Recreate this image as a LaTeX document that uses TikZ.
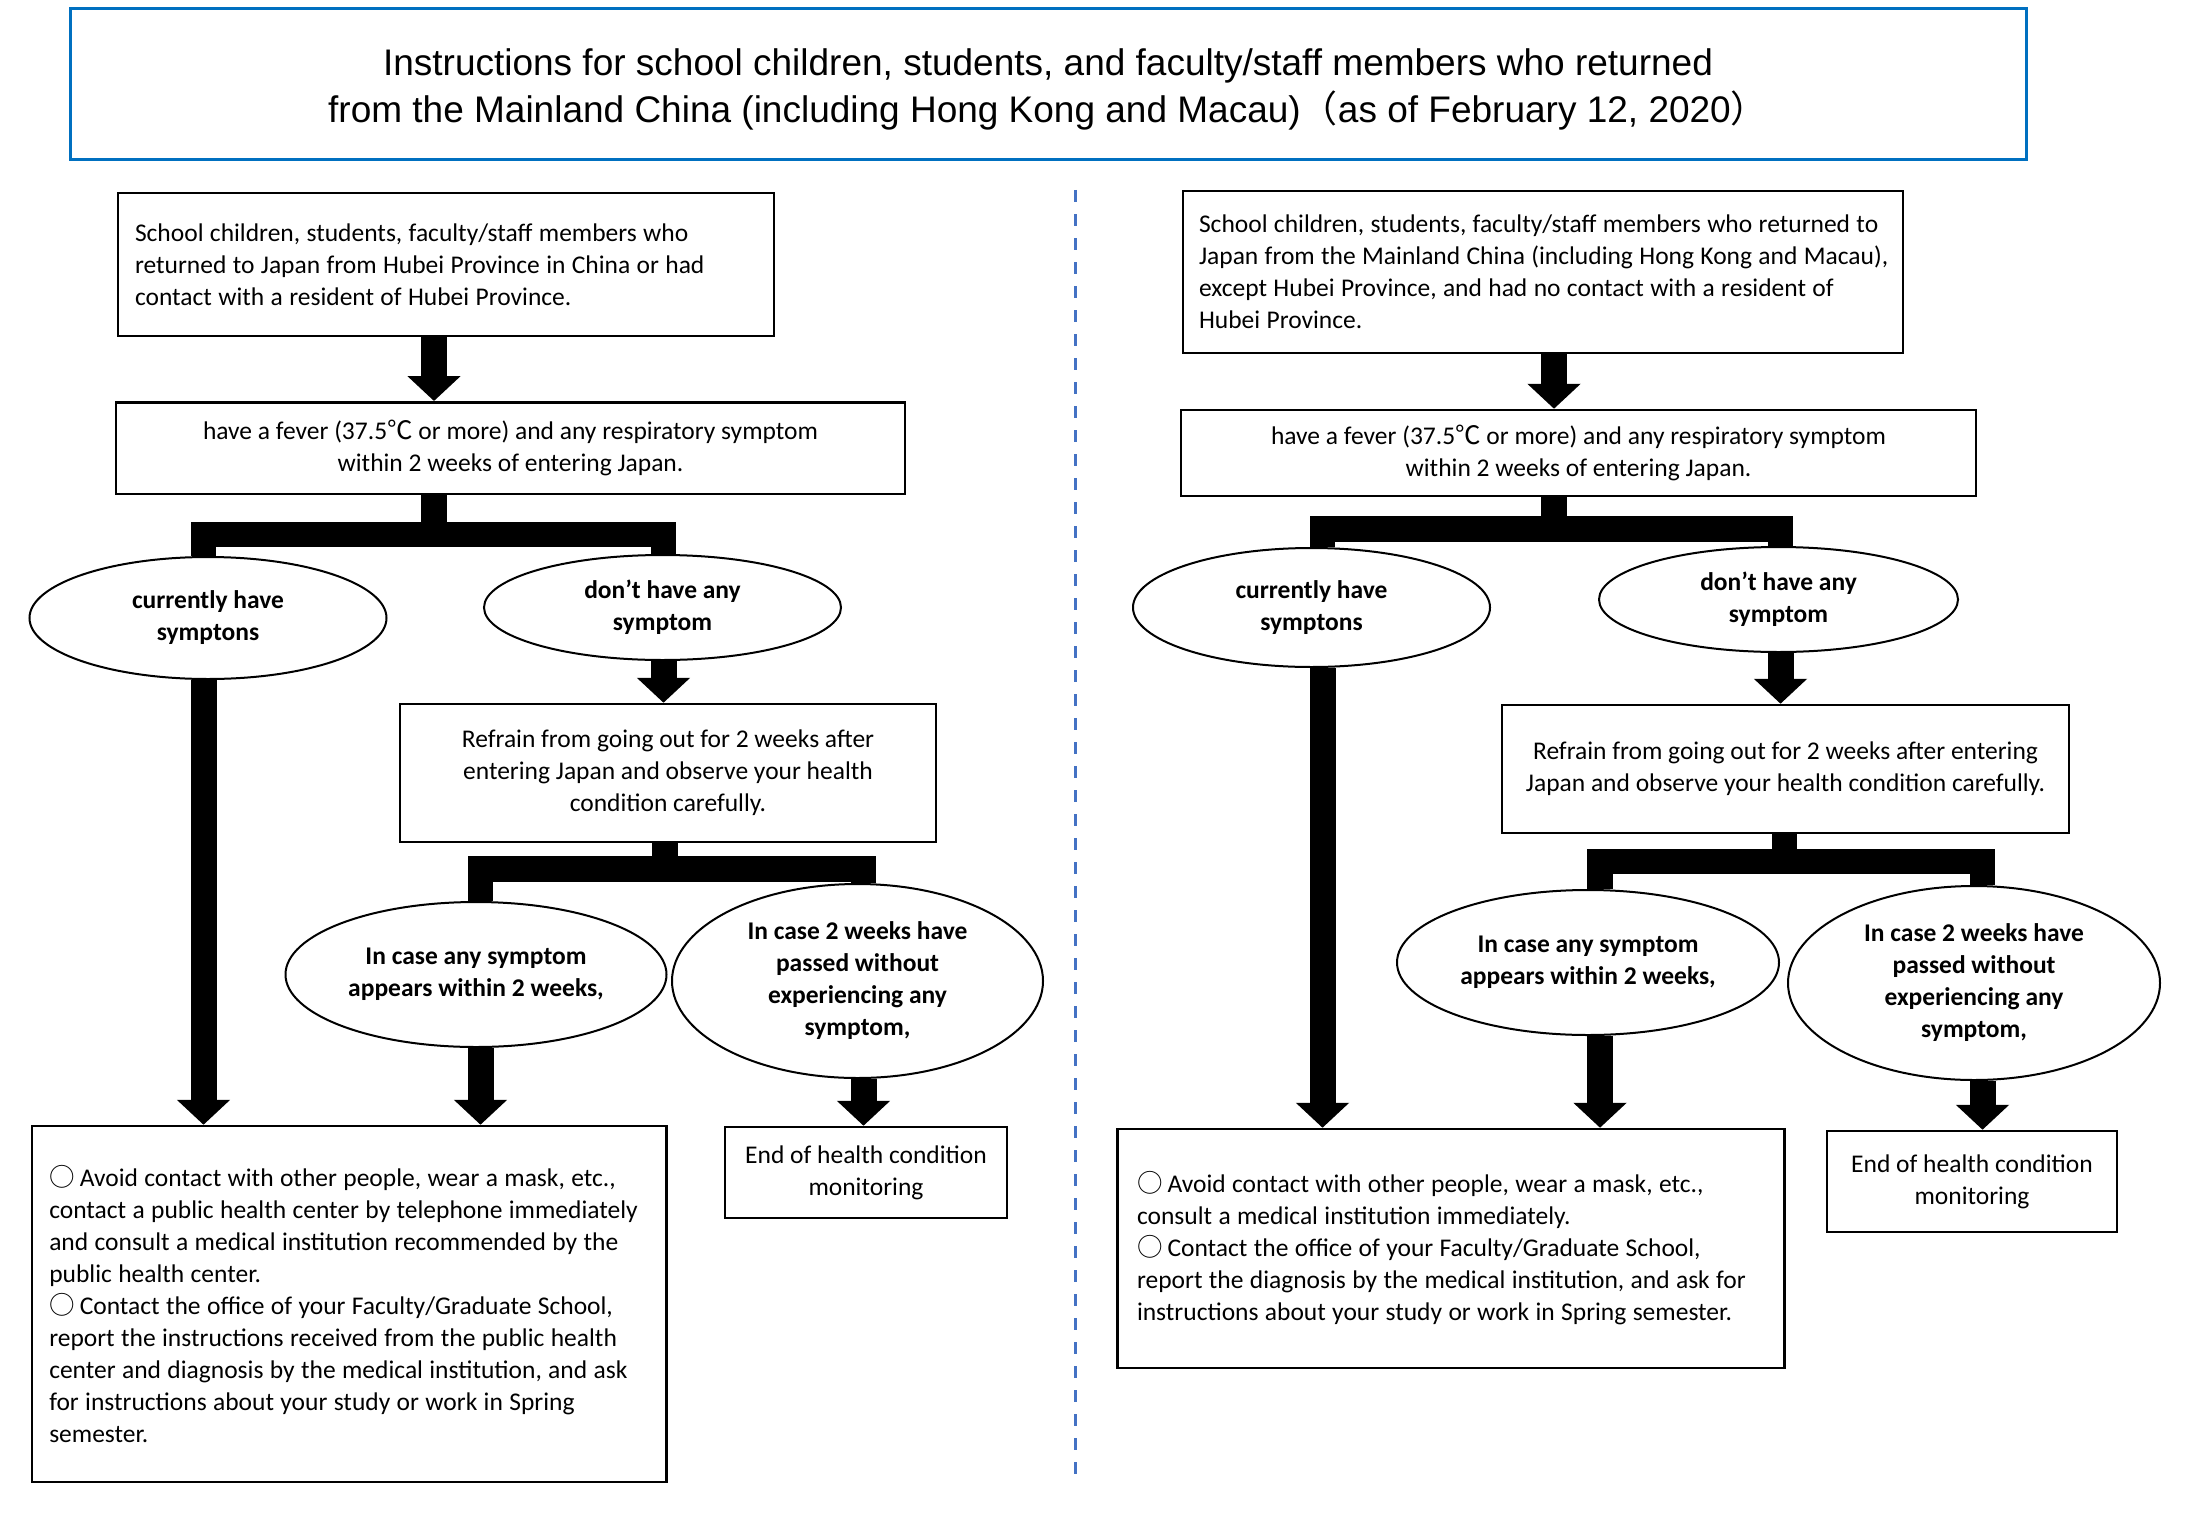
\documentclass[tikz,border=0pt]{standalone}
\usepackage{fontspec}
\setmainfont{Carlito}
\newfontfamily\titlefont{Liberation Sans}
\newfontfamily\cjk{Noto Sans CJK JP}
\usetikzlibrary{arrows.meta,calc,shapes.geometric}
\definecolor{titleblue}{RGB}{0,112,192}
\definecolor{dashblue}{RGB}{68,114,196}
\newcommand{\circmark}{{\cjk ○}\hspace{5pt}}
\newcommand{\degc}{{\cjk ℃}}
\newcommand{\lineof}[1]{\mbox{\spaceskip=0.25em\relax\xspaceskip=0.25em\relax #1}}
\hfuzz=50pt
\begin{document}
\begin{tikzpicture}[x=1pt,y=-1pt,
 every node/.style={inner sep=0pt},
 box/.style={draw=black, line width=2.5pt, fill=white, font=\fontsize{25.5}{32}\selectfont},
 lbox/.style={box, align=left},
 cbox/.style={box, align=center},
 oval/.style={ellipse, draw=black, line width=2pt, fill=white, align=center, font=\fontsize{25.5}{32}\selectfont\bfseries},
 fat/.style={line width=26pt, -{Triangle[width=52pt,length=25pt]}},
 bar/.style={line width=25.5pt},
 titlebox/.style={draw=titleblue, line width=3pt, align=center, font=\titlefont\fontsize{37}{47}\selectfont},
 sep/.style={draw=dashblue, line width=3pt, dash pattern=on 12pt off 12pt}
]
\useasboundingbox (0,0) rectangle (2207,1533);

\node[titlebox, minimum width=1956pt, minimum height=151pt] (T) at (1048,84.5) {};
\node[align=center, font=\titlefont\fontsize{37}{47}\selectfont] (Ttext) at (1048,89)
 {Instructions for school children, students, and faculty/staff members who returned\\
  from the Mainland China (including Hong Kong and Macau){\cjk （}as of February 12, 2020{\cjk ）}};

\coordinate (dtop) at (1075,190);
\coordinate (dbot) at (1075,1478);
\draw[sep] (dtop) -- (dbot);

% ---------- left column ----------
\node[lbox, minimum width=656pt, minimum height=143pt, text width=622pt] (A1) at (446,264.5)
 {\lineof{School children, students, faculty/staff members who}\\
  \lineof{returned to Japan from Hubei Province in China or had}\\
  \lineof{contact with a resident of Hubei Province.}};
\node[cbox, minimum width=789pt, minimum height=91.5pt] (B1) at (510.5,448)
 {have a fever (37.5\degc{} or more) and any respiratory symptom\\
  within 2 weeks of entering Japan.};
\node[oval, minimum width=357pt, minimum height=122pt] (L1) at (208,618) {currently have\\ symptons};
\node[oval, minimum width=357pt, minimum height=105pt] (R1) at (662.5,607.5) {don't have any\\ symptom};
\node[cbox, minimum width=536pt, minimum height=138pt] (C1) at (668,773)
 {Refrain from going out for 2 weeks after\\
  entering Japan and observe your health\\
  condition carefully.};
\node[oval, minimum width=381pt, minimum height=145pt] (L2) at (476,974.5)
 {In case any symptom\\ appears within 2 weeks,};
\node[oval, minimum width=371pt, minimum height=194pt] (R2) at (857.5,981)
 {In case 2 weeks have\\ passed without\\ experiencing any\\ symptom,};
\node[lbox, minimum width=634.5pt, minimum height=356pt, text width=599.5pt] (D1) at (349,1304)
 {\lineof{\circmark Avoid contact with other people, wear a mask, etc.,}\\
  \lineof{contact a public health center by telephone immediately}\\
  \lineof{and consult a medical institution recommended by the}\\
  \lineof{public health center.}\\
  \lineof{\circmark Contact the office of your Faculty/Graduate School,}\\
  \lineof{report the instructions received from the public health}\\
  \lineof{center and diagnosis by the medical institution, and ask}\\
  \lineof{for instructions about your study or work in Spring}\\
  \lineof{semester.}};
\node[cbox, minimum width=282pt, minimum height=91pt] (E1) at (866,1172.5)
 {End of health condition\\ monitoring};

% ---------- right column ----------
\node[lbox, minimum width=720pt, minimum height=162pt, text width=688pt] (A2) at (1543,272)
 {\lineof{School children, students, faculty/staff members who returned to}\\
  \lineof{Japan from the Mainland China (including Hong Kong and Macau),}\\
  \lineof{except Hubei Province, and had no contact with a resident of}\\
  \lineof{Hubei Province.}};
\node[cbox, minimum width=795pt, minimum height=86pt] (B2) at (1578.5,453)
 {have a fever (37.5\degc{} or more) and any respiratory symptom\\
  within 2 weeks of entering Japan.};
\node[oval, minimum width=357pt, minimum height=119pt] (L3) at (1311.5,607.5) {currently have\\ symptons};
\node[oval, minimum width=359pt, minimum height=105pt] (R3) at (1778.5,599.5) {don't have any\\ symptom};
\node[cbox, minimum width=567pt, minimum height=128pt] (C2) at (1785.5,769)
 {Refrain from going out for 2 weeks after entering\\
  Japan and observe your health condition carefully.};
\node[oval, minimum width=382pt, minimum height=145pt] (L4) at (1588,962.5)
 {In case any symptom\\ appears within 2 weeks,};
\node[oval, minimum width=372pt, minimum height=194pt] (R4) at (1974,983)
 {In case 2 weeks have\\ passed without\\ experiencing any\\ symptom,};
\node[lbox, minimum width=667pt, minimum height=239pt, text width=628pt] (D2) at (1451,1248.5)
 {\lineof{\circmark Avoid contact with other people, wear a mask, etc.,}\\
  \lineof{consult a medical institution immediately.}\\
  \lineof{\circmark Contact the office of your Faculty/Graduate School,}\\
  \lineof{report the diagnosis by the medical institution, and ask for}\\
  \lineof{instructions about your study or work in Spring semester.}};
\node[cbox, minimum width=290pt, minimum height=101pt] (E2) at (1972,1181.5)
 {End of health condition\\ monitoring};

% ---------- connectors left ----------
\draw[fat] ($(A1.south)+(-12,0)$) -- ($(B1.north)+(-76.5,0)$);
\coordinate (j1) at (434,534.5);
\draw[bar] ($(B1.south)+(-76.5,0)$) -- (j1);
\draw[bar] ($(L1.north)+(-4.5,0)$) |- (j1) -| ($(R1.north)+(1,0)$);
\coordinate (l1s) at ($(L1.south)+(-4.5,0)$);
\draw[fat] (l1s) -- (l1s |- D1.north);
\coordinate (r1s) at ($(R1.south)+(1,0)$);
\draw[fat] (r1s) -- (r1s |- C1.north);
\coordinate (j2) at (665,869);
\draw[bar] ($(C1.south)+(-3,0)$) -- (j2);
\draw[bar] ($(L2.north)+(4.5,0)$) |- (j2) -| ($(R2.north)+(6,0)$);
\coordinate (l2s) at ($(L2.south)+(4.5,0)$);
\draw[fat] (l2s) -- (l2s |- D1.north);
\coordinate (r2s) at ($(R2.south)+(6,0)$);
\draw[fat] (r2s) -- (r2s |- E1.north);

% ---------- connectors right ----------
\draw[fat] ($(A2.south)+(11,0)$) -- ($(B2.north)+(-24.5,0)$);
\coordinate (j3) at (1554,529);
\draw[bar] ($(B2.south)+(-24.5,0)$) -- (j3);
\draw[bar] ($(L3.north)+(11,0)$) |- (j3) -| ($(R3.north)+(2,0)$);
\coordinate (l3s) at ($(L3.south)+(11,0)$);
\draw[fat] (l3s) -- (l3s |- D2.north);
\coordinate (r3s) at ($(R3.south)+(2,0)$);
\draw[fat] (r3s) -- (r3s |- C2.north);
\coordinate (j4) at (1784.5,861.5);
\draw[bar] ($(C2.south)+(-1,0)$) -- (j4);
\draw[bar] ($(L4.north)+(12,0)$) |- (j4) -| ($(R4.north)+(8.5,0)$);
\coordinate (l4s) at ($(L4.south)+(12,0)$);
\draw[fat] (l4s) -- (l4s |- D2.north);
\coordinate (r4s) at ($(R4.south)+(8.5,0)$);
\draw[fat] (r4s) -- (r4s |- E2.north);
\end{tikzpicture}
\end{document}
